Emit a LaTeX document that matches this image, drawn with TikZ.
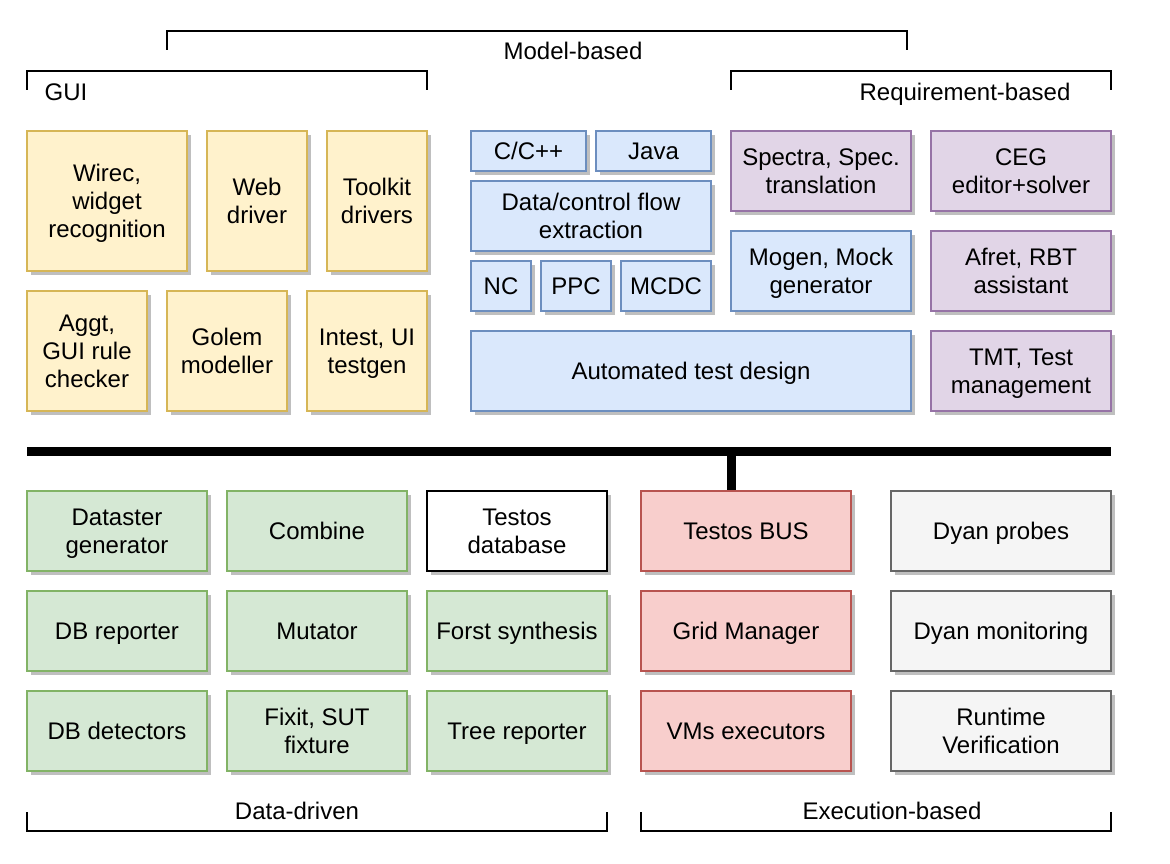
\documentclass[tikz,border=0pt]{standalone}
\usepackage{fontspec}
\setmainfont{Liberation Sans}
\usetikzlibrary{shadows}
\definecolor{yfill}{HTML}{FFF2CC}\definecolor{ydraw}{HTML}{D6B656}
\definecolor{bfill}{HTML}{DAE8FC}\definecolor{bdraw}{HTML}{6C8EBF}
\definecolor{pfill}{HTML}{E1D5E7}\definecolor{pdraw}{HTML}{9673A6}
\definecolor{gfill}{HTML}{D5E8D4}\definecolor{gdraw}{HTML}{82B366}
\definecolor{rfill}{HTML}{F8CECC}\definecolor{rdraw}{HTML}{B85450}
\definecolor{kfill}{HTML}{F5F5F5}\definecolor{kdraw}{HTML}{666666}
\newcommand{\mystrut}{\rule[-5pt]{0pt}{27.2pt}}
\begin{document}
\begin{tikzpicture}[x=1pt,y=-1pt,
  box/.style={rectangle, line width=1.5pt, align=center, inner sep=0pt,
    font=\fontsize{24}{28}\selectfont,
    execute at begin node=\mystrut, execute at end node=\mystrut,
    drop shadow={shadow xshift=4pt, shadow yshift=-4pt, fill=black!25, opacity=1}},
  ybox/.style={box, fill=yfill, draw=ydraw},
  bbox/.style={box, fill=bfill, draw=bdraw},
  pbox/.style={box, fill=pfill, draw=pdraw},
  gbox/.style={box, fill=gfill, draw=gdraw},
  rbox/.style={box, fill=rfill, draw=rdraw},
  kbox/.style={box, fill=kfill, draw=kdraw},
  wbox/.style={box, fill=white, draw=black},
  sz/.style n args={2}{minimum width=#1pt, minimum height=#2pt},
  brk/.style={line width=2pt},
  lbl/.style={font=\fontsize{24}{28}\selectfont, inner sep=0pt,
    execute at begin node=\mystrut},
  bus/.style={line width=9pt}
]
\useasboundingbox (0,0) rectangle (1170,864);

% GUI (yellow)
\node[ybox, sz={160}{140}] (wirec) at (107,201) {\mystrut Wirec,\\widget\\recognition};
\node[ybox, sz={100}{140}] (web) at (257,201) {\mystrut Web\\driver};
\node[ybox, sz={100}{140}] (toolkit) at (377,201) {\mystrut Toolkit\\drivers};
\node[ybox, sz={120}{120}] (aggt) at (87,351) {\mystrut Aggt,\\GUI rule\\checker};
\node[ybox, sz={120}{120}] (golem) at (227,351) {\mystrut Golem\\modeller};
\node[ybox, sz={120}{120}] (intest) at (367,351) {\mystrut Intest, UI\\testgen};

% Model (blue)
\node[bbox, sz={115}{40}] (cpp) at (528.5,151) {C/C++};
\node[bbox, sz={115}{40}] (java) at (653.5,151) {Java};
\node[bbox, sz={240}{70}] (dcf) at (591,216) {\mystrut Data/control flow\\extraction};
\node[bbox, sz={60}{50}] (nc) at (501,286) {NC};
\node[bbox, sz={70}{50}] (ppc) at (576,286) {PPC};
\node[bbox, sz={90}{50}] (mcdc) at (666,286) {MCDC};
\node[bbox, sz={180}{80}] (mogen) at (821,271) {\mystrut Mogen, Mock\\generator};
\node[bbox, sz={440}{80}] (atd) at (691,371) {Automated test design};

% Requirement (purple)
\node[pbox, sz={180}{80}] (spectra) at (821,171) {\mystrut Spectra, Spec.\\translation};
\node[pbox, sz={180}{80}] (ceg) at (1021,171) {\mystrut CEG\\editor+solver};
\node[pbox, sz={180}{80}] (afret) at (1021,271) {\mystrut Afret, RBT\\assistant};
\node[pbox, sz={180}{80}] (tmt) at (1021,371) {\mystrut TMT, Test\\management};

% Data-driven (green)
\node[gbox, sz={180}{80}] (datastar) at (117,531) {\mystrut Dataster\\generator};
\node[gbox, sz={180}{80}] (combine) at (317,531) {Combine};
\node[wbox, sz={180}{80}] (tdb) at (517,531) {\mystrut Testos\\database};
\node[gbox, sz={180}{80}] (dbrep) at (117,631) {DB reporter};
\node[gbox, sz={180}{80}] (mutator) at (317,631) {Mutator};
\node[gbox, sz={180}{80}] (forst) at (517,631) {Forst synthesis};
\node[gbox, sz={180}{80}] (dbdet) at (117,731) {DB detectors};
\node[gbox, sz={180}{80}] (fixit) at (317,731) {\mystrut Fixit, SUT\\fixture};
\node[gbox, sz={180}{80}] (tree) at (517,731) {Tree reporter};

% Execution (red)
\node[rbox, sz={210}{80}] (tbus) at (746,531) {Testos BUS};
\node[rbox, sz={210}{80}] (grid) at (746,631) {Grid Manager};
\node[rbox, sz={210}{80}] (vms) at (746,731) {VMs executors};

% Grey
\node[kbox, sz={220}{80}] (probes) at (1001,531) {Dyan probes};
\node[kbox, sz={220}{80}] (monit) at (1001,631) {Dyan monitoring};
\node[kbox, sz={220}{80}] (rv) at (1001,731) {\mystrut Runtime\\Verification};

% Bus
\coordinate (busL) at (27,451);
\coordinate (busR) at (1111,451);
\coordinate (busJ) at (731,451);
\draw[bus] (busL) -- (busR);
\draw[bus] (busJ) -- (busJ |- tbus.north);

% Brackets
\draw[brk] (167,50) -- (167,31) -- (907,31) -- (907,50);
\node[lbl] (lmodel) at (573,51) {Model-based};
\draw[brk] (27,90) -- (27,71) -- (427,71) -- (427,90);
\node[lbl] (lgui) at (66,92) {GUI};
\draw[brk] (731,90) -- (731,71) -- (1111,71) -- (1111,90);
\node[lbl] (lreq) at (965,92) {Requirement-based};
\draw[brk] (27,812) -- (27,831) -- (607,831) -- (607,812);
\node[lbl] (ldata) at (297,811) {Data-driven};
\draw[brk] (641,812) -- (641,831) -- (1111,831) -- (1111,812);
\node[lbl] (lexec) at (892,811) {Execution-based};
\end{tikzpicture}
\end{document}
